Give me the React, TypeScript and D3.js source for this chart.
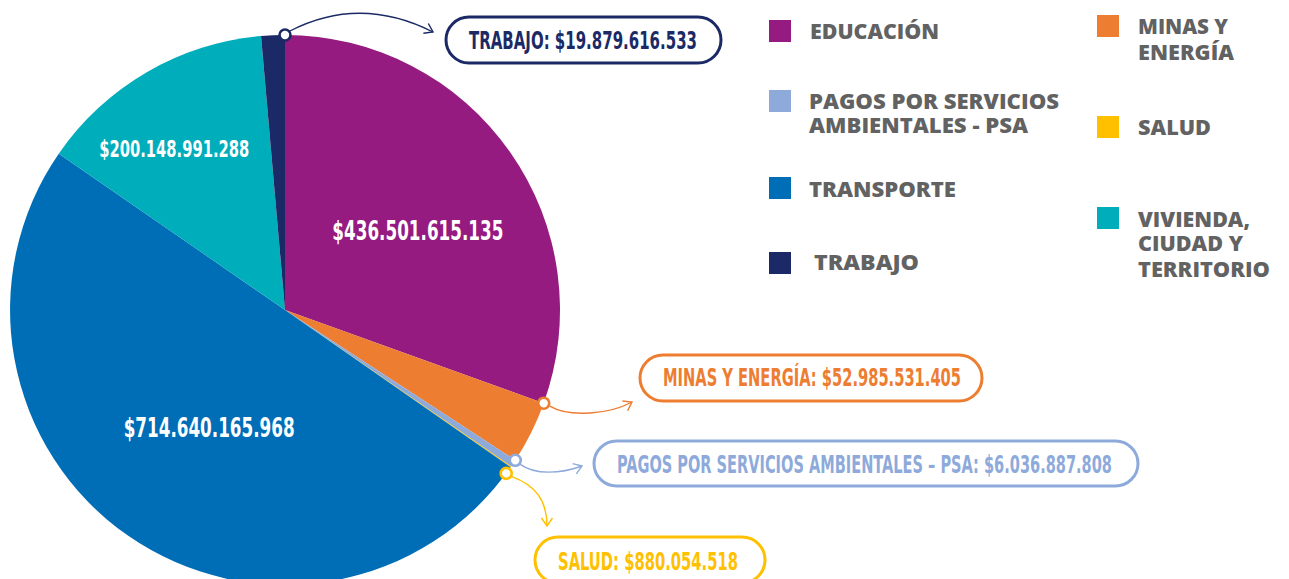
import React from "react";
import * as d3 from "d3";

const categories = [
  "EDUCACIÓN",
  "MINAS Y ENERGÍA",
  "PAGOS POR SERVICIOS AMBIENTALES - PSA",
  "SALUD",
  "TRANSPORTE",
  "VIVIENDA, CIUDAD Y TERRITORIO",
  "TRABAJO",
];
const values = [
  436501615135, 52985531405, 6036887808, 880054518, 714640165968,
  200148991288, 19879616533,
];
const valueLabels = [
  "$436.501.615.135",
  "$52.985.531.405",
  "$6.036.887.808",
  "$880.054.518",
  "$714.640.165.968",
  "$200.148.991.288",
  "$19.879.616.533",
];
const colors = [
  "#951B81",
  "#ED7D31",
  "#8EAADB",
  "#FFC000",
  "#006EB6",
  "#00ADBB",
  "#1B2A66",
];
const calloutTexts = [
  "TRABAJO: $19.879.616.533",
  "MINAS Y ENERGÍA: $52.985.531.405",
  "PAGOS POR SERVICIOS AMBIENTALES – PSA: $6.036.887.808",
  "SALUD: $880.054.518",
];

const W = 1289;
const H = 579;
const cx = 285;
const cy = 310;
const R = 275;

const narrow = "'Liberation Sans Narrow', 'DejaVu Sans Condensed', 'Roboto', sans-serif";
const heavy = "'Open Sans', 'Lato', 'DejaVu Sans', sans-serif";

// inner value labels (index, polar placement, size, width)
const innerLabels = [
  { i: 0, deg: 59, r: 155, size: 26, w: 171 },
  { i: 4, deg: 212.8, r: 140, size: 26, w: 171 },
  { i: 5, deg: 325.6, r: 196, size: 23, w: 150 },
];

// callouts
const callouts = [
  { i: 6, text: 0, at: "end", offDeg: 0, box: [446, 17, 275, 46], tx: 469, tw: 228, ty: 49,
    path: (p: number[]) => `M${p[0] + 5},${p[1] - 4} Q360,-5 433,32` },
  { i: 1, text: 1, at: "start", offDeg: 0, box: [640, 355, 342, 46], tx: 663, tw: 298, ty: 386,
    path: (p: number[]) => `M${p[0] + 6},${p[1] + 3} C570,418 610,414 632,402` },
  { i: 2, text: 2, at: "start", offDeg: 0, box: [594, 441, 544, 45], tx: 617, tw: 495, ty: 473,
    path: (p: number[]) => `M${p[0] + 5},${p[1] + 4} C535,475 560,474 582,466` },
  { i: 3, text: 3, at: "start", offDeg: 1.8, box: [535, 537, 230, 46], tx: 558, tw: 180, ty: 570,
    path: (p: number[]) => `M${p[0] + 5},${p[1] + 3} C535,485 547,500 547,526` },
];

// legend entries
const legend = [
  { i: 0, sx: 769, sy: 20, tx: 810, lines: ["EDUCACIÓN"], ys: [39], ws: [129] },
  { i: 2, sx: 769, sy: 90, tx: 809, lines: ["PAGOS POR SERVICIOS", "AMBIENTALES - PSA"], ys: [109, 133], ws: [250, 219] },
  { i: 4, sx: 769, sy: 177, tx: 809, lines: ["TRANSPORTE"], ys: [197], ws: [147] },
  { i: 6, sx: 769, sy: 252, tx: 814, lines: ["TRABAJO"], ys: [270], ws: [105] },
  { i: 1, sx: 1097, sy: 15, tx: 1138, lines: ["MINAS Y", "ENERGÍA"], ys: [34, 60], ws: [90, 96] },
  { i: 3, sx: 1097, sy: 116, tx: 1138, lines: ["SALUD"], ys: [135], ws: [73] },
  { i: 5, sx: 1097, sy: 207, tx: 1138, lines: ["VIVIENDA,", "CIUDAD Y", "TERRITORIO"], ys: [227, 251, 277], ws: [112, 105, 132] },
];

export default function App() {
  const pie = d3.pie<number>().sort(null).value((d) => d);
  const arcs = pie(values);
  const arc = d3.arc<d3.PieArcDatum<number>>().innerRadius(0).outerRadius(R);

  const polar = (angRad: number, r: number) => [
    cx + r * Math.sin(angRad),
    cy - r * Math.cos(angRad),
  ];

  return (
    <div style={{ position: "absolute", left: 0, top: 0 }}>
      <svg width={W} height={H} style={{ display: "block", background: "#fff" }}>
        <defs>
          {callouts.map((c) => (
            <marker
              key={c.i}
              id={`ah${c.i}`}
              markerUnits="userSpaceOnUse"
              markerWidth={16}
              markerHeight={16}
              refX={0}
              refY={0}
              viewBox="-10 -8 12 16"
              orient="auto"
            >
              <path d="M-8,-5.5 L0,0 L-8,5.5" fill="none" stroke={colors[c.i]} strokeWidth={1.4} />
            </marker>
          ))}
        </defs>
        <g transform={`translate(${cx},${cy})`}>
          {arcs.map((a, k) => (
            <path key={k} d={arc(a) || ""} fill={colors[k]} />
          ))}
        </g>
        {innerLabels.map((l) => {
          const [x, y] = polar((l.deg * Math.PI) / 180, l.r);
          return (
            <text
              key={l.i}
              x={x - l.w / 2}
              y={y + l.size * 0.36}
              fill="#fff"
              fontFamily={narrow}
              fontWeight={700}
              fontSize={l.size}
              textLength={l.w}
              lengthAdjust="spacingAndGlyphs"
            >
              {valueLabels[l.i]}
            </text>
          );
        })}
        {callouts.map((c) => {
          const a = arcs[c.i];
          const ang = (c.at === "end" ? a.endAngle : a.startAngle) + (c.offDeg * Math.PI) / 180;
          const p = polar(ang, R);
          const col = colors[c.i];
          const [bx, by, bw, bh] = c.box;
          return (
            <g key={c.i}>
              <path d={c.path(p)} fill="none" stroke={col} strokeWidth={1.4} markerEnd={`url(#ah${c.i})`} />
              <circle cx={p[0]} cy={p[1]} r={5.5} fill="#fff" stroke={col} strokeWidth={2.6} />
              <rect x={bx} y={by} width={bw} height={bh} rx={bh / 2} ry={bh / 2} fill="#fff" stroke={col} strokeWidth={3} />
              <text
                x={c.tx}
                y={c.ty}
                fill={col}
                fontFamily={narrow}
                fontWeight={700}
                fontSize={24}
                textLength={c.tw}
                lengthAdjust="spacingAndGlyphs"
              >
                {calloutTexts[c.text]}
              </text>
            </g>
          );
        })}
        {legend.map((l) => (
          <g key={l.i}>
            <rect x={l.sx} y={l.sy} width={22} height={22} fill={colors[l.i]} />
            {l.lines.map((t, j) => (
              <text
                key={j}
                x={l.tx}
                y={l.ys[j]}
                fill="#626262"
                fontFamily={heavy}
                fontWeight={800}
                fontSize={21}
                textLength={l.ws[j]}
                lengthAdjust="spacingAndGlyphs"
              >
                {t}
              </text>
            ))}
          </g>
        ))}
      </svg>
    </div>
  );
}
